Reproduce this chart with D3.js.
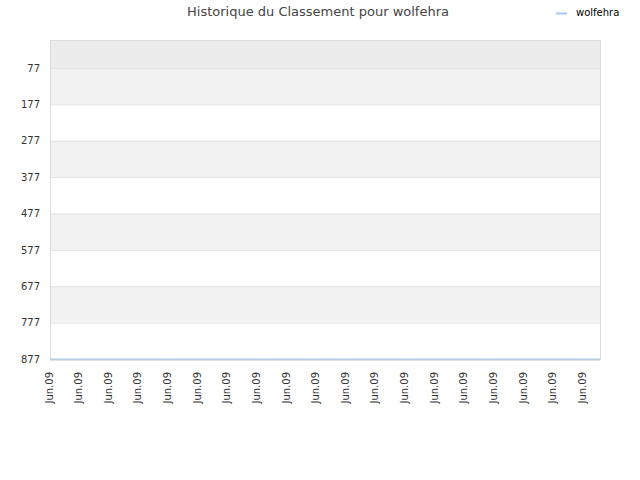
<!DOCTYPE html>
<html>
<head>
<meta charset="utf-8">
<script src="https://cdn.jsdelivr.net/npm/d3@7"></script>
<style>
  body { margin: 0; background: #fff; }
  text { font-family: "DejaVu Sans", sans-serif; }
</style>
</head>
<body>
<div id="chart"></div>
<script>
// Chart data (the last point runs to the right edge, without a label)
const dates = ["Jun.09", "Jun.09", "Jun.09", "Jun.09", "Jun.09", "Jun.09", "Jun.09", "Jun.09", "Jun.09", "Jun.09",
               "Jun.09", "Jun.09", "Jun.09", "Jun.09", "Jun.09", "Jun.09", "Jun.09", "Jun.09", "Jun.09"];
const ranks = [877, 877, 877, 877, 877, 877, 877, 877, 877, 877,
               877, 877, 877, 877, 877, 877, 877, 877, 877, 877];
const yTicks = [77, 177, 277, 377, 477, 577, 677, 777, 877];
const seriesName = "wolfehra";

const width = 640;
const height = 480;
const margin = { top: 40, right: 40, bottom: 121, left: 50 };
const plotW = width - margin.left - margin.right;
const plotH = height - margin.top - margin.bottom;

const svg = d3.select("#chart")
    .append("svg")
    .attr("width", width)
    .attr("height", height);

// Scales
const x = d3.scaleLinear()
    .domain([0, 18.56])
    .range([margin.left, margin.left + plotW])
    .clamp(true);

const y = d3.scaleLinear()
    .domain([0, 877])
    .range([margin.top, margin.top + plotH]);

// Background bands between ticks
const bandEdges = [0].concat(yTicks);
const bands = d3.pairs(bandEdges);
svg.append("g")
    .selectAll("rect")
    .data(bands)
    .enter()
    .append("rect")
    .attr("x", margin.left)
    .attr("width", plotW)
    .attr("y", d => y(d[0]))
    .attr("height", d => y(d[1]) - y(d[0]))
    .attr("fill", (d, i) => i === 0 ? "#ececec" : (i % 2 === 1 ? "#f2f2f2" : "#ffffff"));

// Horizontal grid lines
svg.append("g")
    .selectAll("line")
    .data(yTicks)
    .enter()
    .append("line")
    .attr("x1", margin.left)
    .attr("x2", margin.left + plotW)
    .attr("y1", d => y(d) + 0.5)
    .attr("y2", d => y(d) + 0.5)
    .attr("stroke", "#e2e2e2");

// Plot frame
svg.append("rect")
    .attr("x", margin.left + 0.5)
    .attr("y", margin.top + 0.5)
    .attr("width", plotW)
    .attr("height", plotH)
    .attr("fill", "none")
    .attr("stroke", "#dcdcdc");

svg.append("line")
    .attr("x1", margin.left)
    .attr("x2", margin.left + plotW)
    .attr("y1", margin.top + plotH + 1)
    .attr("y2", margin.top + plotH + 1)
    .attr("stroke", "#c8c8c8");

// Y axis labels
const yAxis = d3.axisLeft(y).tickValues(yTicks).tickSize(0).tickPadding(10);
svg.append("g")
    .attr("transform", `translate(${margin.left},0)`)
    .call(yAxis)
    .call(g => g.select(".domain").remove())
    .selectAll("text")
    .attr("font-family", "DejaVu Sans, sans-serif")
    .attr("font-size", 10)
    .attr("fill", "#333");

// X axis labels
const xAxis = d3.axisBottom(x)
    .tickValues(d3.range(dates.length))
    .tickFormat(i => dates[i])
    .tickSize(0);
svg.append("g")
    .attr("transform", `translate(0,${margin.top + plotH})`)
    .call(xAxis)
    .call(g => g.select(".domain").remove())
    .selectAll("text")
    .attr("font-family", "DejaVu Sans, sans-serif")
    .attr("font-size", 10)
    .attr("fill", "#333")
    .attr("text-anchor", "end")
    .attr("dy", "0.2em")
    .attr("transform", "translate(0,13) rotate(-90)")
    .attr("x", 0)
    .attr("y", 0);

// Series line
const line = d3.line()
    .x((d, i) => x(i))
    .y(d => y(d));

svg.append("path")
    .datum(ranks)
    .attr("d", line)
    .attr("fill", "none")
    .attr("stroke", "#a3c9f0")
    .attr("stroke-width", 1);

// Title
svg.append("text")
    .attr("x", 318)
    .attr("y", 16)
    .attr("text-anchor", "middle")
    .attr("font-size", 13)
    .attr("fill", "#444")
    .text("Historique du Classement pour " + seriesName);

// Legend
svg.append("line")
    .attr("x1", 556)
    .attr("x2", 567)
    .attr("y1", 13.5)
    .attr("y2", 13.5)
    .attr("stroke", "#a3c9f0")
    .attr("stroke-width", 2);

svg.append("text")
    .attr("x", 576)
    .attr("y", 16)
    .attr("font-size", 10)
    .attr("fill", "#000")
    .text(seriesName);
</script>
</body>
</html>
